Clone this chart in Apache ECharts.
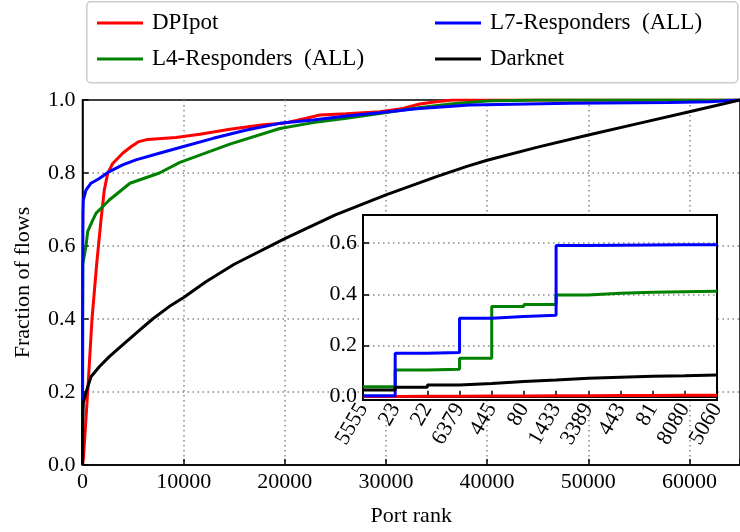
<!DOCTYPE html>
<html><head><meta charset="utf-8">
<script src="https://cdn.jsdelivr.net/npm/echarts@6/dist/echarts.min.js"></script>
<style>html,body{margin:0;padding:0;background:#fff}#c{width:740px;height:532px}</style>
</head><body><div id="c"></div>
<script>
// ---- Data ----
const names = ['DPIpot', 'L4-Responders\u2002(ALL)', 'L7-Responders\u2002(ALL)', 'Darknet'];
const colors = ['#ff0000', '#008000', '#0000ff', '#000000'];

const dpiRank = [0, 100, 510, 940, 1400, 1827, 2153, 2489, 2983, 3970, 4790, 5580, 6440, 9235, 11605, 14570, 17860, 19830, 22140, 23460, 26090, 29380, 31680, 33330, 34980, 36600, 65000];
const dpiFrac = [0, 0.02, 0.2, 0.4, 0.55, 0.671, 0.753, 0.799, 0.826, 0.854, 0.872, 0.886, 0.892, 0.897, 0.906, 0.92, 0.932, 0.936, 0.95, 0.959, 0.962, 0.968, 0.977, 0.989, 0.995, 1.0, 1.0];

const l4Rank = [0, 10, 30, 345, 514, 1000, 1350, 2650, 4690, 7600, 9630, 14570, 19510, 22800, 26090, 29380, 33000, 36600, 40000, 45000, 65000];
const l4Frac = [0, 0.4, 0.55, 0.6, 0.64, 0.67, 0.69, 0.726, 0.772, 0.80, 0.829, 0.879, 0.922, 0.938, 0.95, 0.963, 0.978, 0.99, 0.997, 1.0, 1.0];

const l7Rank = [0, 20, 50, 80, 345, 840, 1660, 2650, 3970, 5280, 7590, 9900, 12920, 16220, 19500, 22800, 26090, 29380, 33000, 38270, 48150, 58020, 62000, 65000];
const l7Frac = [0, 0.55, 0.69, 0.726, 0.753, 0.772, 0.785, 0.804, 0.822, 0.836, 0.854, 0.872, 0.895, 0.918, 0.936, 0.945, 0.956, 0.965, 0.976, 0.986, 0.991, 0.993, 0.995, 1.0];

const darkRank = [0, 20, 80, 345, 840, 1660, 2650, 3970, 5450, 6930, 8570, 10000, 12200, 15000, 20000, 25000, 30000, 35000, 38000, 40000, 45000, 50000, 55000, 60000, 65000];
const darkFrac = [0, 0.12, 0.17, 0.199, 0.242, 0.269, 0.297, 0.329, 0.365, 0.4, 0.434, 0.459, 0.502, 0.55, 0.62, 0.685, 0.74, 0.79, 0.818, 0.835, 0.871, 0.904, 0.936, 0.968, 1.0];

// inset
const insetPorts = ['5555', '23', '22', '6379', '445', '80', '1433', '3389', '443', '81', '8080', '5060'];
const insetDpi = [0.001, 0.002, 0.002, 0.003, 0.003, 0.004, 0.004, 0.005, 0.005, 0.006, 0.006, 0.007];
const insetL4 = [0.039, 0.104, 0.107, 0.150, 0.352, 0.360, 0.397, 0.404, 0.408, 0.410, 0.412, 0.413];
const insetL7 = [0.004, 0.170, 0.173, 0.307, 0.313, 0.318, 0.591, 0.592, 0.593, 0.594, 0.594, 0.595];
const insetDark = [0.026, 0.037, 0.046, 0.052, 0.059, 0.065, 0.072, 0.076, 0.080, 0.082, 0.085, 0.086];

const mainX = [0, 10000, 20000, 30000, 40000, 50000, 60000];
const mainY = [0, 0.2, 0.4, 0.6, 0.8, 1.0];
const insetY = [0, 0.2, 0.4, 0.6];

// ---- Chart ----
const FF = "'Liberation Serif', 'Times New Roman', serif";
const zip = (a, b) => a.map((v, i) => [v, b[i]]);
const mainSeriesData = [zip(dpiRank, dpiFrac), zip(l4Rank, l4Frac), zip(l7Rank, l7Frac), zip(darkRank, darkFrac)];
const insetSeriesData = [insetDpi, insetL4, insetL7, insetDark];
const dotted = { color: '#888', width: 1.5, type: [1.5, 3.5] };
const isIn = (arr, v) => arr.some(t => Math.abs(t - v) < 1e-6);

const chart = echarts.init(document.getElementById('c'), null, { renderer: 'canvas' });
const series = [];
names.forEach((n, i) => {
  series.push({
    name: n, type: 'line', xAxisIndex: 0, yAxisIndex: 0, data: mainSeriesData[i],
    showSymbol: false, symbol: 'none', lineStyle: { color: colors[i], width: 3 }, itemStyle: { color: colors[i] },
    z: 2, animation: false
  });
});
names.forEach((n, i) => {
  series.push({
    name: n, type: 'line', xAxisIndex: 2, yAxisIndex: 2, data: insetSeriesData[i], step: 'end',
    showSymbol: false, symbol: 'none', lineStyle: { color: colors[i], width: 3 }, itemStyle: { color: colors[i] },
    z: 13, animation: false
  });
});

const legendCommon = {
  orient: 'vertical', top: 6, itemWidth: 46, itemHeight: 3, itemGap: 12, icon: 'rect',
  textStyle: { fontFamily: FF, fontSize: 23, color: '#000', lineHeight: 24, padding: [0, 0, 0, 4] },
  selectedMode: false
};

chart.setOption({
  animation: false,
  backgroundColor: '#fff',
  graphic: [{
    type: 'rect', left: 86, top: 1, z: 0,
    shape: { width: 651, height: 81, r: 4 },
    style: { fill: '#fff', stroke: '#cccccc', lineWidth: 1.5 }
  }],
  legend: [
    Object.assign({}, legendCommon, { left: 92, data: [names[0], names[1]] }),
    Object.assign({}, legendCommon, { left: 430, data: [names[2], names[3]] })
  ],
  grid: [
    { left: 82.5, right: 0, top: 100, bottom: 67, show: true, borderColor: '#000', borderWidth: 1.5, backgroundColor: 'transparent', z: 0, outerBoundsMode: 'none', containLabel: false },
    { left: 363, top: 215, width: 354, height: 185, show: true, backgroundColor: '#fff', borderColor: '#000', borderWidth: 2, z: 10, outerBoundsMode: 'none', containLabel: false },
    { left: 363, top: 215, width: 354, height: 181.7, show: false, z: 11, outerBoundsMode: 'none', containLabel: false }
  ],
  xAxis: [
    {
      gridIndex: 0, type: 'value', min: 0, max: 65000, interval: 10000,
      name: 'Port rank', nameLocation: 'middle', nameGap: 40,
      nameTextStyle: { fontFamily: FF, fontSize: 22, color: '#000' },
      axisLine: { show: true, lineStyle: { color: '#000', width: 1.5 } },
      axisTick: { show: true, inside: true, length: 6, lineStyle: { color: '#000', width: 1.5 } },
      axisLabel: { fontFamily: FF, fontSize: 22, color: '#000', margin: 6,
        formatter: v => isIn(mainX, v) ? String(v) : '' },
      splitLine: { show: true, lineStyle: dotted, showMinLine: false, showMaxLine: false }
    },
    { gridIndex: 1, type: 'value', show: false, min: 0, max: 1 },
    {
      gridIndex: 2, type: 'category', data: insetPorts, boundaryGap: false, offset: 3.3,
      axisLine: { show: true, lineStyle: { color: '#000', width: 2 } },
      axisTick: { show: true, inside: true, length: 6, interval: 0, lineStyle: { color: '#000', width: 1.5 } },
      axisLabel: { fontFamily: FF, fontSize: 22, color: '#000', rotate: 60, interval: 0, margin: 5 },
      splitLine: { show: false }, z: 12
    }
  ],
  yAxis: [
    {
      gridIndex: 0, type: 'value', min: 0, max: 1, interval: 0.2,
      name: 'Fraction of flows', nameLocation: 'middle', nameGap: 48,
      nameTextStyle: { fontFamily: FF, fontSize: 22, color: '#000' },
      axisLine: { show: true, lineStyle: { color: '#000', width: 1.5 } },
      axisTick: { show: true, inside: true, length: 6, lineStyle: { color: '#000', width: 1.5 } },
      axisLabel: { fontFamily: FF, fontSize: 22, color: '#000', margin: 7,
        formatter: v => isIn(mainY, v) ? v.toFixed(1) : '' },
      splitLine: { show: true, lineStyle: dotted, showMinLine: false, showMaxLine: false }
    },
    { gridIndex: 1, type: 'value', show: false, min: 0, max: 1 },
    {
      gridIndex: 2, type: 'value', min: 0, max: 0.71, interval: 0.2,
      axisLine: { show: false },
      axisTick: { show: true, inside: true, length: 6, lineStyle: { color: '#000', width: 1.5 } },
      axisLabel: { fontFamily: FF, fontSize: 22, color: '#000', margin: 6,
        formatter: v => isIn(insetY, v) ? v.toFixed(1) : '' },
      splitLine: { show: true, lineStyle: dotted, showMaxLine: false },
      z: 12
    }
  ],
  series: series
});
</script></body></html>
